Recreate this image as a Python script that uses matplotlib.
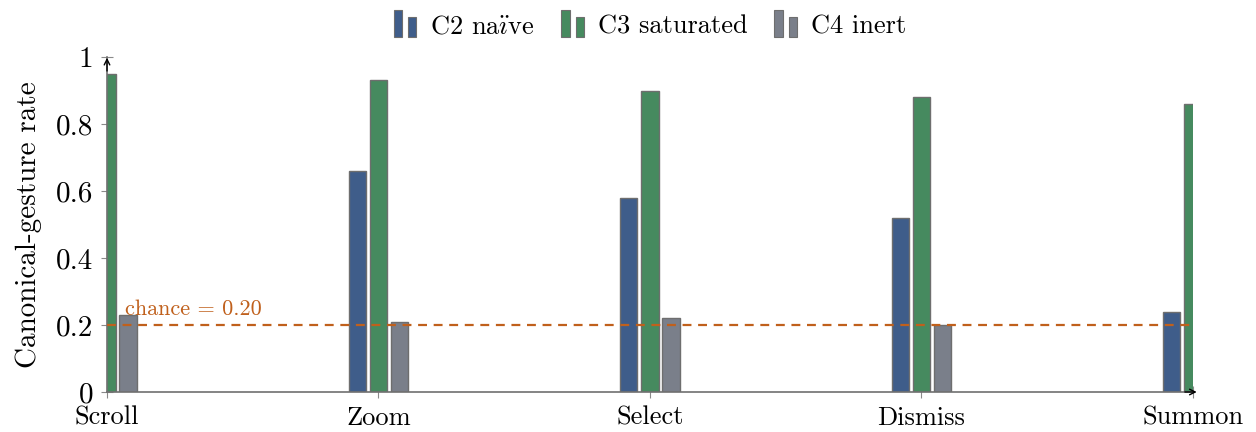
import numpy as np
import matplotlib.pyplot as plt
from matplotlib.patches import Rectangle
from matplotlib.legend_handler import HandlerBase

plt.rcParams['font.family'] = ['cmr10', 'DejaVu Serif']
plt.rcParams['mathtext.fontset'] = 'cm'
plt.rcParams['axes.formatter.use_mathtext'] = True

categories = ['Scroll', 'Zoom', 'Select', 'Dismiss', 'Summon']
series = [r'C2 na$\mathrm{\ddot{\imath}}$ve', 'C3 saturated', 'C4 inert']
# clipped bars at the axis ends cannot be read -> nan
c2_naive = [np.nan, 0.66, 0.58, 0.52, 0.24]
c3_saturated = [0.95, 0.93, 0.90, 0.88, 0.86]
c4_inert = [0.23, 0.21, 0.22, 0.20, np.nan]
chance = 0.20
y_ticks = [0, 0.2, 0.4, 0.6, 0.8, 1]
y_tick_labels = ['0', '0.2', '0.4', '0.6', '0.8', '1']

colors = ['#3f5d8a', '#468a5f', '#7a7f8a']
edge = '#6e6e6e'
orange = '#c0601c'


class TwoBarHandler(HandlerBase):
    # pgfplots style ybar legend: two small bars
    def create_artists(self, legend, orig_handle, xdescent, ydescent,
                       width, height, fontsize, trans):
        fc = orig_handle.get_facecolor()
        w = width * 0.32
        r1 = Rectangle((-xdescent, -ydescent - height * 0.2), w, height * 1.45,
                       facecolor=fc, edgecolor=edge, lw=0.8, transform=trans)
        r2 = Rectangle((-xdescent + width * 0.55, -ydescent - height * 0.2), w, height * 1.1,
                       facecolor=fc, edgecolor=edge, lw=0.8, transform=trans)
        return [r1, r2]


fig = plt.figure(figsize=(12.56, 4.32), dpi=100)
ax = fig.add_axes([0.0852, 0.0926, 0.8646, 0.7754])

x = np.arange(len(categories))
w = 0.063
off = 0.0775
handles = []
for i, vals in enumerate([c2_naive, c3_saturated, c4_inert]):
    b = ax.bar(x + (i - 1) * off, vals, w, color=colors[i], edgecolor=edge,
               linewidth=1.0, label=series[i], zorder=2)
    handles.append(b.patches[1])

ax.axhline(chance, color=orange, ls=(0, (4, 3)), lw=1.6, zorder=3)
ax.text(0.066, chance + 0.018, 'chance = 0.20', color=orange, fontsize=16,
        ha='left', va='bottom')

ax.set_xlim(0, 4)
ax.set_ylim(0, 1)
ax.set_xticks(x)
ax.set_xticklabels(categories, fontsize=19)
ax.set_yticks(y_ticks)
ax.set_yticklabels(y_tick_labels, fontsize=21)
ax.set_ylabel('Canonical-gesture rate', fontsize=21, labelpad=10)
ax.tick_params(axis='y', direction='inout', length=8, width=0.8, color='#8a8a8a', pad=6)
ax.tick_params(axis='x', direction='inout', length=8, width=0.8, color='#8a8a8a', pad=6)

for s in ['top', 'right']:
    ax.spines[s].set_visible(False)
for s in ['left', 'bottom']:
    ax.spines[s].set_color('#707070')
    ax.spines[s].set_linewidth(1.2)

ax.annotate('', xy=(0, 1.006), xytext=(0, 0.95), xycoords='axes fraction',
            arrowprops=dict(arrowstyle='->', color='black', lw=1.0), annotation_clip=False)
ax.annotate('', xy=(1.006, 0), xytext=(0.99, 0), xycoords='axes fraction',
            arrowprops=dict(arrowstyle='->', color='black', lw=1.0), annotation_clip=False)

ax.legend(handles, series, loc='lower center', bbox_to_anchor=(0.5, 1.0),
          ncol=3, frameon=False, fontsize=19, handler_map={Rectangle: TwoBarHandler()},
          handlelength=1.0, handletextpad=0.4, columnspacing=1.0, borderaxespad=0.3)

fig.savefig('out.png', dpi=100)
